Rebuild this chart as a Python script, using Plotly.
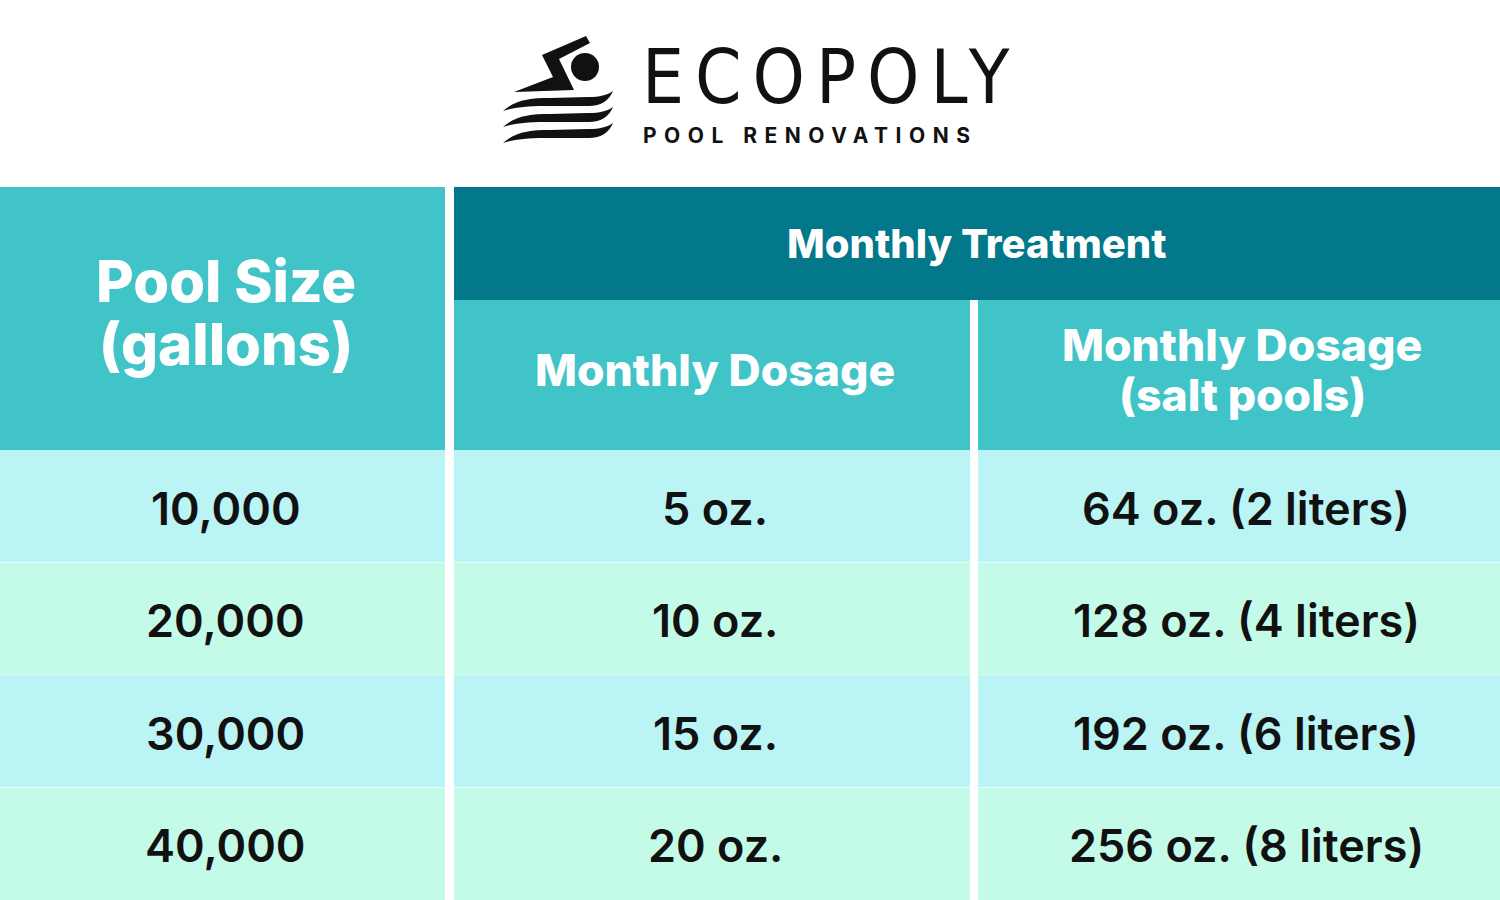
import plotly.graph_objects as go

# table content
group_header = "Monthly Treatment"
column_headers = ["Pool Size<br>(gallons)", "Monthly Dosage", "Monthly Dosage<br>(salt pools)"]
pool_sizes = ["10,000", "20,000", "30,000", "40,000"]
monthly_dosage = ["5 oz.", "10 oz.", "15 oz.", "20 oz."]
salt_dosage = ["64 oz. (2 liters)", "128 oz. (4 liters)", "192 oz. (6 liters)", "256 oz. (8 liters)"]
brand_name = "ECOPOLY"
brand_tagline = "POOL RENOVATIONS"

W, H = 1500, 900
DARK = "#02788A"
MID = "#40C4C8"
ROW_COLORS = ["#BAF4F5", "#C3FBE8"]
FONT = "Inter, Open Sans, sans-serif"

# column edges (left, right) and row layout
col_edges = [(0, 445), (454, 970), (978, 1500)]
table_top = 187
group_bottom = 300
header_bottom = 450
row_h = (H - header_bottom) / len(pool_sizes)

fig = go.Figure()
shapes = []
annotations = []


def rect(x0, x1, y0, y1, color):
    shapes.append(dict(type="rect", xref="x", yref="y", x0=x0, x1=x1, y0=y0, y1=y1,
                       fillcolor=color, line=dict(width=0), layer="below"))


def label(x, y, text, size, color, weight=700, family=FONT):
    annotations.append(dict(x=x, y=y, xref="x", yref="y", text=text, showarrow=False,
                            xanchor="center", yanchor="middle",
                            font=dict(family=family, size=size, color=color, weight=weight)))


def header_lines(x, y_mid, text, size, gap):
    lines = text.split("<br>")
    start = y_mid - gap * (len(lines) - 1) / 2
    for i, line in enumerate(lines):
        label(x, start + i * gap, line, size, "white", 800)


# header cells
rect(col_edges[0][0], col_edges[0][1], table_top, header_bottom, MID)
rect(col_edges[1][0], col_edges[2][1], table_top, group_bottom, DARK)
label((col_edges[1][0] + col_edges[2][1]) / 2, (table_top + group_bottom) / 2, group_header, 40, "white", 800)
header_lines(sum(col_edges[0]) / 2 + 3, 312, column_headers[0], 58, 63)
for i in (1, 2):
    x0, x1 = col_edges[i]
    rect(x0, x1, group_bottom, header_bottom, MID)
    header_lines((x0 + x1) / 2 + 3, 370, column_headers[i], 44.5, 50)

# body rows
columns = [pool_sizes, monthly_dosage, salt_dosage]
for r in range(len(pool_sizes)):
    y0 = header_bottom + r * row_h
    y1 = y0 + row_h
    for c, values in enumerate(columns):
        x0, x1 = col_edges[c]
        rect(x0, x1, y0, y1, ROW_COLORS[r % 2])
        label((x0 + x1) / 2 + (3 if c < 2 else 7), (y0 + y1) / 2 + 2, values[r], 45, "#111111", 600)
    if r > 0:
        shapes.append(dict(type="line", xref="x", yref="y", x0=0, x1=W, y0=y0, y1=y0,
                           line=dict(color="rgba(255,255,255,0.45)", width=1)))

# logo: swimmer icon
shapes.append(dict(type="circle", xref="x", yref="y", x0=571, x1=599, y0=53, y1=81,
                   fillcolor="#111111", line=dict(width=0)))
shapes.append(dict(type="path", xref="x", yref="y",
                   path="M 542,55 L 586,36 L 590,43 L 559,59 L 574,90 L 514,92 L 553,77 Z",
                   fillcolor="#111111", line=dict(width=0)))
for k in range(3):
    d = 16 * k
    shapes.append(dict(type="path", xref="x", yref="y",
                       path=(f"M 503,{111 + d} C 515,{100 + d} 530,{98 + d} 550,{98 + d} "
                             f"L 588,{97 + d} C 600,{97 + d} 607,{95 + d} 613,{91 + d} "
                             f"C 609,{100 + d} 602,{106 + d} 588,{106 + d} "
                             f"L 545,{106 + d} C 525,{106 + d} 512,{108 + d} 503,{111 + d} Z"),
                       fillcolor="#111111", line=dict(width=0)))

annotations.append(dict(x=640, y=77, xref="x", yref="y", showarrow=False,
                        xanchor="left", yanchor="middle",
                        text=f'<span style="letter-spacing:11px">{brand_name}</span>',
                        font=dict(family="Liberation Sans Narrow, DejaVu Sans Condensed, Roboto, sans-serif",
                                  size=74, color="#111111", weight=400)))
annotations.append(dict(x=641, y=135, xref="x", yref="y", showarrow=False,
                        xanchor="left", yanchor="middle",
                        text=f'<span style="letter-spacing:7.5px">{brand_tagline}</span>',
                        font=dict(family=FONT, size=21, color="#111111", weight=700)))

fig.update_layout(
    width=W, height=H,
    margin=dict(l=0, r=0, t=0, b=0),
    paper_bgcolor="white", plot_bgcolor="white",
    xaxis=dict(range=[0, W], visible=False, fixedrange=True),
    yaxis=dict(range=[H, 0], visible=False, fixedrange=True),
    shapes=shapes,
    annotations=annotations,
    showlegend=False,
)

fig.write_html("out.html", config={"displayModeBar": False},
               post_script="document.body.style.margin='0';document.body.style.overflow='hidden';")
